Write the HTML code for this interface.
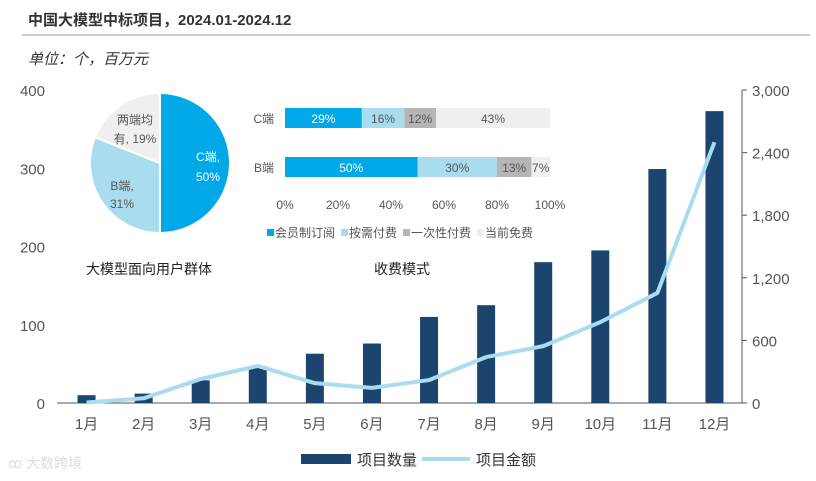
<!DOCTYPE html>
<html><head><meta charset="utf-8"><style>
body{margin:0;background:#fff;font-family:"Liberation Sans","Noto Sans CJK SC",sans-serif;}
</style></head><body>
<svg width="816" height="476" xmlns="http://www.w3.org/2000/svg" font-family="Liberation Sans, Noto Sans CJK SC, sans-serif">
<text x="28" y="25" font-size="15" font-weight="bold" fill="#333">中国大模型中标项目，2024.01-2024.12</text>
<line x1="22" y1="35" x2="810" y2="35" stroke="#999" stroke-width="1"/>
<text x="28" y="64" font-size="15" font-style="italic" fill="#333">单位：个，百万元</text>
<g id="axes"></g>
<g id="bars"></g>
<path id="line" fill="none" stroke="#a9dcef" stroke-width="4" stroke-linejoin="round"/>
<g id="inset"></g>
<rect x="301" y="454" width="50" height="10" fill="#1b456f"/>
<text x="357" y="465" font-size="15" fill="#333">项目数量</text>
<line x1="422" y1="459" x2="470" y2="459" stroke="#a9dcef" stroke-width="4"/>
<text x="476" y="465" font-size="15" fill="#333">项目金额</text>
<text x="8" y="468" font-size="14" fill="#ddd">ꝏ 大数跨境</text>
</svg>
<script>
const months=["1月","2月","3月","4月","5月","6月","7月","8月","9月","10月","11月","12月"];
const counts=[10,12,29,47,63,76,110,125,180,195,299,373];
const amounts=[5,45,230,355,190,145,220,440,545,775,1055,2500];
const leftTicks=[0,100,200,300,400];
const rightTicks=[0,600,1200,1800,2400,3000];
const pieLabels=["C端","B端","两端均有"];
const pieValues=[50,31,19];
const modeRows=["C端","B端"];
const subscription=[29,50];
const onDemand=[16,30];
const oneTime=[12,13];
const freeNow=[43,7];
const modeNames=["会员制订阅","按需付费","一次性付费","当前免费"];
const modeColors=["#00a8e8","#a9dcef","#b5b5b5","#efefef"];
const NS="http://www.w3.org/2000/svg";
function mk(tag,attrs,parent,txt){const e=document.createElementNS(NS,tag);for(const k in attrs)e.setAttribute(k,attrs[k]);if(txt!==undefined)e.textContent=txt;parent.appendChild(e);return e;}
const x0=57,x1=742,yB=403,yT=90;
const step=(x1-x0)/months.length;
const xc=i=>x0+step*(i+0.5)+1;
const yL=v=>yB-(v/400)*(yB-yT);
const yR=v=>yB-(v/3000)*(yB-yT);
const ax=document.getElementById('axes');
leftTicks.forEach(t=>{const e=mk('text',{x:45,y:yL(t)+6,'font-size':15,fill:'#555','text-anchor':'end'},ax,t);

});
rightTicks.forEach(t=>{mk('line',{x1:x1,x2:x1+5,y1:yR(t),y2:yR(t),stroke:'#555'},ax);
const e=mk('text',{x:752,y:yR(t)+6,'font-size':15,fill:'#555'},ax,t.toLocaleString('en-US'));

});
mk('line',{x1:x1,x2:x1,y1:yT,y2:yB,stroke:'#555'},ax);
mk('line',{x1:x0,x2:x1,y1:yB,y2:yB,stroke:'#555'},ax);
const bg=document.getElementById('bars');
months.forEach((m,i)=>{const r=mk('rect',{x:xc(i)-9,y:yL(counts[i]),width:18,height:yB-yL(counts[i]),fill:'#1b456f'},bg);


const t=mk('text',{x:xc(i),y:429,'font-size':15,fill:'#555','text-anchor':'middle'},bg,m);

});
document.getElementById('line').setAttribute('d',amounts.map((v,i)=>(i?'L':'M')+xc(i)+','+yR(v)).join(''));
const ins=document.getElementById('inset');
// pie
const cx=160,cy=163,R=70;let a=0;const tot=pieValues.reduce((s,v)=>s+v,0);
const pieCols=["#00a8e8","#a9dcef","#efefef"];
pieValues.forEach((v,i)=>{const a2=a+v/tot*2*Math.PI;
const p=(ang)=>[cx+R*Math.sin(ang),cy-R*Math.cos(ang)];
const [sx,sy]=p(a),[ex,ey]=p(a2);
const s=mk('path',{d:`M${cx},${cy}L${sx},${sy}A${R},${R} 0 ${a2-a>Math.PI?1:0} 1 ${ex},${ey}Z`,fill:pieCols[i],stroke:'#fff','stroke-width':2},ins);

a=a2;});
const pl=[[208,161,"C端,",'#fff'],[208,181,pieValues[0]+"%",'#fff'],[122,190,"B端,",'#555'],[122,208,pieValues[1]+"%",'#555'],[135,124,"两端均",'#555'],[135,143,"有, "+pieValues[2]+"%",'#555']];
pl.forEach(q=>{const e=mk('text',{x:q[0],y:q[1],'font-size':12,fill:q[3],'text-anchor':'middle'},ins,q[2]);

});
// stacked
const bx0=285,bw=265;const series=[subscription,onDemand,oneTime,freeNow];
modeRows.forEach((r,ri)=>{const y=ri?157:108;let acc=0;
const lt=mk('text',{x:274,y:y+15,'font-size':12,fill:'#555','text-anchor':'end'},ins,r);


series.forEach((s,si)=>{const rx=bx0+acc/100*bw,w=s[ri]/100*bw;
const e=mk('rect',{x:rx,y:y,width:w,height:20,fill:modeColors[si]},ins);


const t=mk('text',{x:rx+w/2,y:y+15,'font-size':12,fill:si==0?'#fff':'#555','text-anchor':'middle'},ins,s[ri]+'%');

acc+=s[ri];});});
[0,20,40,60,80,100].forEach(p=>{const e=mk('text',{x:bx0+p/100*bw,y:209,'font-size':12,fill:'#555','text-anchor':'middle'},ins,p+'%');

});
let lx=267;modeNames.forEach((n,i)=>{mk('rect',{x:lx,y:229,width:7,height:7,fill:modeColors[i]},ins);
const e=mk('text',{x:lx+8,y:237,'font-size':12,fill:'#555'},ins,n);

lx+=8+n.length*12+6;});
const t1=mk('text',{x:86,y:274,'font-size':14,fill:'#222'},ins,'大模型面向用户群体');


const t2=mk('text',{x:374,y:274,'font-size':14,fill:'#222'},ins,'收费模式');


</script>
</body></html>
